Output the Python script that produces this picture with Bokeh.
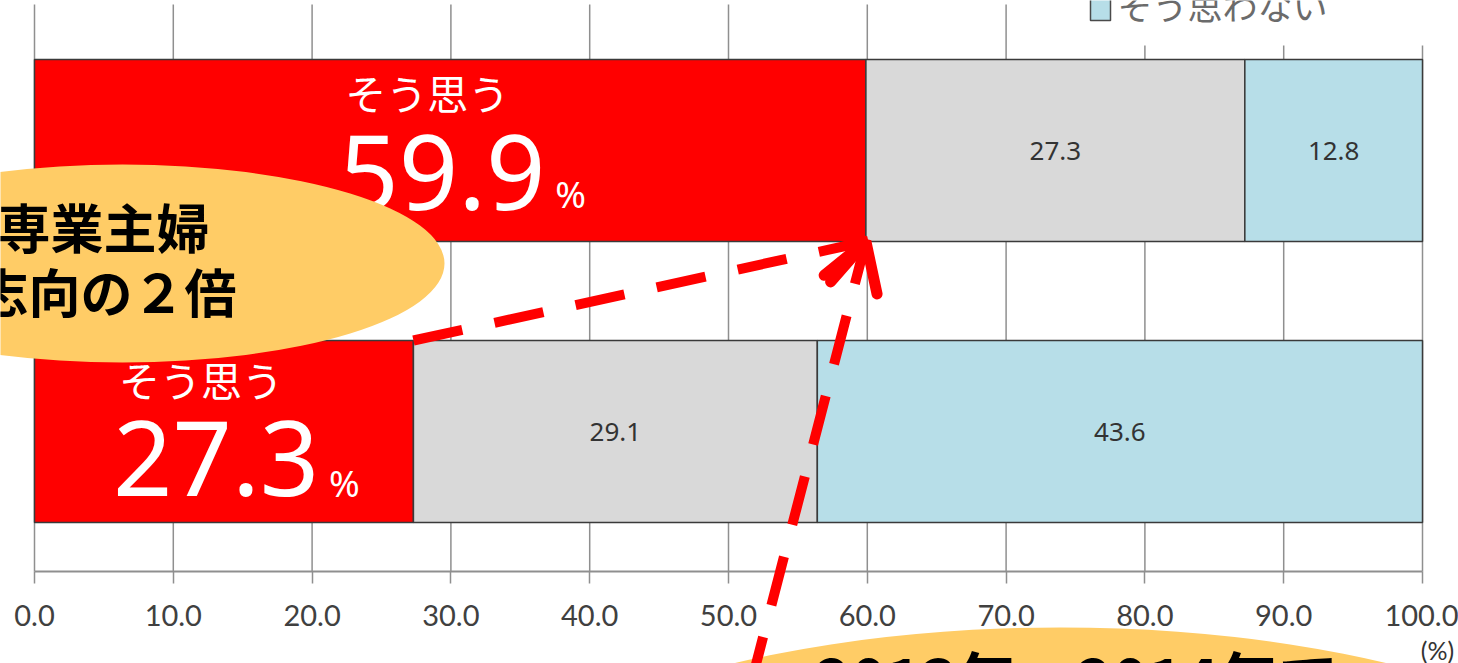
import numpy as np
from bokeh.plotting import figure
from bokeh.models import (Range1d, LinearAxis, FixedTicker, PrintfTickFormatter,
                          Arrow, OpenHead)
from bokeh.core.properties import value
from bokeh.embed import file_html
from bokeh.resources import INLINE

# ---------------- data ----------------
rows = [0, 1]                      # 0 = earlier survey (bottom bar), 1 = later survey (top bar)
agree = [27.3, 59.9]               # そう思う
neutral = [29.1, 27.3]
disagree = [43.6, 12.8]            # そう思わない
agree_label = "そう思う"
disagree_label = "そう思わない"
x_ticks = [0, 10, 20, 30, 40, 50, 60, 70, 80, 90, 100]
unit_label = "(%)"
callout_top = ["専業主婦", "志向の２倍"]
callout_bottom = "2013年→2014年で"

# ---------------- layout helpers (pixel -> data) ----------------
W, H = 1458, 663
PXX = 13.88      # pixels per x unit
PXY = 281.0      # pixels per row unit
def dx(px):
    return (px - 34) / PXX
def dy(py):
    return (431 - py) / PXY

BAR_H = 182 / PXY
AXIS_Y = dy(571)

CJK = "Noto Sans CJK JP"
RED = "#FF0000"
GREY = "#D9D9D9"
BLUE = "#B7DEE8"
ORANGE = "#FFCC66"
EDGE = "#3a3a3a"

p = figure(width=W, height=H, output_backend="svg", toolbar_location=None,
           x_range=Range1d(dx(0), dx(W)), y_range=Range1d(dy(H), dy(0)),
           x_axis_location=None, y_axis_location=None, min_border=0,
           outline_line_color=None, background_fill_color="white")
p.grid.visible = False

# vertical grid lines (only above the axis)
p.segment(x0=x_ticks, x1=x_ticks, y0=[AXIS_Y] * len(x_ticks),
          y1=[dy(4)] * len(x_ticks), line_color="#8f8f8f", line_width=1.5)

# stacked bars
a = np.array(agree)
n = np.array(neutral)
d = np.array(disagree)
p.hbar(y=rows, left=0, right=a, height=BAR_H, fill_color=RED, line_color=EDGE, line_width=1.5)
p.hbar(y=rows, left=a, right=a + n, height=BAR_H, fill_color=GREY, line_color=EDGE, line_width=1.5)
p.hbar(y=rows, left=a + n, right=a + n + d, height=BAR_H, fill_color=BLUE, line_color=EDGE, line_width=1.5)

# segment value labels
p.text(x=list(a + n / 2) + list(a + n + d / 2), y=rows + rows,
       text=[f"{v:.1f}" for v in neutral] + [f"{v:.1f}" for v in disagree],
       text_align="center", text_baseline="middle", text_font=value("Noto Sans"),
       text_font_size="26px", text_color="#333333")

# big labels in red bars: offsets in px below the bar centre (kana, number, %)
row_offsets = {0: (-53, 27, 51), 1: (-59, 22, 43)}
for r, v in zip(rows, agree):
    kana_off, num_off, pct_off = row_offsets[r]
    p.text(x=[v / 2 - 105 / PXX], y=[r - kana_off / PXY], text=[agree_label], text_align="left",
           text_baseline="middle", text_font=value(CJK), text_font_size="41px",
           text_color="white")
    p.text(x=[v / 2 - 111 / PXX], y=[r - num_off / PXY], text=[f"{v:.1f}"], text_align="left",
           text_baseline="middle", text_font=value("Noto Sans"), text_font_size="104px",
           text_color="white")
    p.text(x=[v / 2 + 105 / PXX], y=[r - pct_off / PXY], text=["%"], text_align="left",
           text_baseline="middle", text_font=value("Noto Sans"), text_font_size="37px",
           text_color="white")

# legend fragment (top right)
p.quad(left=[dx(1020)], right=[dx(1445)], bottom=[dy(45)], top=[dy(-5)],
       fill_color="white", line_color=None)
p.quad(left=[dx(1090)], right=[dx(1110)], bottom=[dy(20)], top=[dy(-2)],
       fill_color=BLUE, line_color="#4a4a4a", line_width=1.5)
p.text(x=[dx(1117)], y=[dy(4)], text=[disagree_label], text_align="left",
       text_baseline="middle", text_font=value(CJK), text_font_size="35px",
       text_color="#6b6b6b")

# call-out ellipses
p.ellipse(x=[dx(122)], y=[dy(263)], width=[644 / PXX], height=[198 / PXY],
          fill_color=ORANGE, line_color=None)
p.text(x=[dx(209)], y=[dy(225)], text=[callout_top[0]], text_align="right",
       text_baseline="middle", text_font=value(CJK), text_font_style="bold",
       text_font_size="53px", text_color="black")
p.text(x=[dx(236)], y=[dy(290)], text=[callout_top[1]], text_align="right",
       text_baseline="middle", text_font=value(CJK), text_font_style="bold",
       text_font_size="52px", text_color="black")

p.ellipse(x=[dx(1060)], y=[dy(849)], width=[1200 / PXX], height=[444 / PXY],
          fill_color=ORANGE, line_color=None)
p.text(x=[dx(815)], y=[dy(676)], text=[callout_bottom], text_align="left",
       text_baseline="middle", text_font=value(CJK), text_font_style="bold",
       text_font_size="60px", text_color="black")

p.text(x=[dx(1437)], y=[dy(649)], text=[unit_label], text_align="center",
       text_baseline="middle", text_font=value("Lato"),
       text_font_size="25px", text_color="#333333")

# x axis
ax = LinearAxis(fixed_location=AXIS_Y, ticker=FixedTicker(ticks=x_ticks),
                formatter=PrintfTickFormatter(format="%.1f"), bounds=(0, 100),
                axis_line_color="#8f8f8f", axis_line_width=2,
                major_tick_line_color="#8f8f8f", major_tick_line_width=1.5,
                major_tick_in=0, major_tick_out=12, minor_tick_line_color=None,
                major_label_text_font="Lato",
                major_label_text_font_size="29px", major_label_text_color="#404040",
                major_label_standoff=21)
p.add_layout(ax, "below")

# dashed red arrows
for xs, ys in [((agree[0]), (rows[0] + BAR_H / 2)), (dx(750), dy(685))]:
    head = OpenHead(size=48, line_color=RED, line_width=11, line_cap="round")
    p.add_layout(Arrow(end=head, x_start=xs, y_start=ys,
                       x_end=agree[1], y_end=rows[1] - BAR_H / 2,
                       line_color=RED, line_width=10, line_dash="50 33"))

open("out.html", "w").write(file_html(p, INLINE))
